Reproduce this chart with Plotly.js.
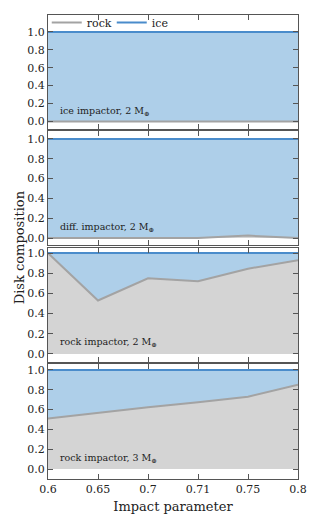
<!DOCTYPE html>
<html>
<head>
<meta charset="utf-8">
<script src="https://cdn.plot.ly/plotly-3.0.1.min.js"></script>
<style>html,body{margin:0;padding:0;background:#fff}#chart{width:315px;height:522px}</style>
</head>
<body>
<div id="chart"></div>
<script>
// Data
const categories = ['0.6', '0.65', '0.7', '0.71', '0.75', '0.8'];
const panelLabels = ['ice impactor, 2 M<sub>⊕</sub>', 'diff. impactor, 2 M<sub>⊕</sub>', 'rock impactor, 2 M<sub>⊕</sub>', 'rock impactor, 3 M<sub>⊕</sub>'];
const rockIce2  = [0, 0, 0, 0, 0, 0];
const iceIce2   = [1, 1, 1, 1, 1, 1];
const rockDiff2 = [0, 0, 0, 0, 0.025, 0];
const iceDiff2  = [1, 1, 1, 1, 0.975, 1];
const rockRock2 = [1.0, 0.53, 0.75, 0.72, 0.845, 0.93];
const iceRock2  = [0.0, 0.47, 0.25, 0.28, 0.155, 0.07];
const rockRock3 = [0.51, 0.57, 0.625, 0.675, 0.73, 0.85];
const iceRock3  = [0.49, 0.43, 0.375, 0.325, 0.27, 0.15];
const yTicks = [0, 0.2, 0.4, 0.6, 0.8, 1.0];
const yTickText = ['0.0', '0.2', '0.4', '0.6', '0.8', '1.0'];

const rockSeries = [rockIce2, rockDiff2, rockRock2, rockRock3];
const iceSeries = [iceIce2, iceDiff2, iceRock2, iceRock3];

const rockLine = '#a3a3a3', rockFill = '#d4d4d4';
const iceLine = '#4a8ccb', iceFill = '#aecfe9';
const font = 'DejaVu Serif, serif';

const domains = [[0.7543, 1.0], [0.5043, 0.75], [0.2522, 0.4978], [0.0, 0.2478]];
const yRanges = [[-0.085, 1.19], [-0.07, 1.08], [-0.08, 1.05], [-0.1, 1.06]];

const traces = [];
const layout = {
  width: 315, height: 522,
  margin: {l: 48, r: 17, t: 15, b: 43, autoexpand: false},
  paper_bgcolor: '#fff', plot_bgcolor: '#fff',
  font: {family: font, size: 11, color: '#222'},
  showlegend: true,
  legend: {orientation: 'h', x: -0.005, y: 1.015, xanchor: 'left', yanchor: 'top',
           traceorder: 'normal',
           bgcolor: 'rgba(255,255,255,0)', font: {family: font, size: 11, color: '#222'},
           itemwidth: 30, tracegroupgap: 0, entrywidth: 20},
  annotations: []
};

for (let i = 0; i < 4; i++) {
  const xa = i === 0 ? 'x' : 'x' + (i + 1);
  const ya = i === 0 ? 'y' : 'y' + (i + 1);
  traces.push({
    x: categories, y: rockSeries[i], xaxis: xa, yaxis: ya, type: 'scatter', mode: 'lines',
    stackgroup: 's' + i, line: {color: rockLine, width: 2}, fillcolor: rockFill,
    showlegend: false, hoverinfo: 'skip'
  });
  traces.push({
    x: categories, y: iceSeries[i], xaxis: xa, yaxis: ya, type: 'scatter', mode: 'lines',
    stackgroup: 's' + i, line: {color: iceLine, width: 2}, fillcolor: iceFill,
    showlegend: false, hoverinfo: 'skip'
  });
  const axCommon = {
    showline: true, linecolor: '#555', linewidth: 1, mirror: 'ticks',
    ticks: 'inside', ticklen: 5, tickcolor: '#555', tickwidth: 1,
    showgrid: false, zeroline: false
  };
  layout['xaxis' + (i === 0 ? '' : i + 1)] = Object.assign({}, axCommon, {
    type: 'category', range: [0, 5], anchor: ya,
    showticklabels: i === 3, tickfont: {family: font, size: 11, color: '#222'},
    title: i === 3 ? {text: 'Impact parameter', font: {family: font, size: 13, color: '#222'}, standoff: 6} : undefined
  });
  layout['yaxis' + (i === 0 ? '' : i + 1)] = Object.assign({}, axCommon, {
    domain: domains[i], range: yRanges[i], anchor: xa,
    tickvals: yTicks, ticktext: yTickText, tickfont: {family: font, size: 11, color: '#222'}
  });
  layout.annotations.push({
    text: panelLabels[i], xref: xa + ' domain', yref: ya, x: 0.04, y: 0.11,
    xanchor: 'left', yanchor: 'middle', showarrow: false,
    font: {family: font, size: 9.5, color: '#222'}
  });
}
// legend-only traces (line symbols)
traces.push({x: [null], y: [null], type: 'scatter', mode: 'lines', name: 'rock',
  line: {color: rockLine, width: 2}, xaxis: 'x', yaxis: 'y'});
traces.push({x: [null], y: [null], type: 'scatter', mode: 'lines', name: 'ice',
  line: {color: iceLine, width: 2}, xaxis: 'x', yaxis: 'y'});

layout.annotations.push({
  text: 'Disk composition', xref: 'paper', yref: 'paper', x: -0.115, y: 0.5,
  xanchor: 'center', yanchor: 'middle', textangle: -90, showarrow: false,
  font: {family: font, size: 13, color: '#222'}
});

Plotly.newPlot('chart', traces, layout, {staticPlot: true, displayModeBar: false});
</script>
</body>
</html>
